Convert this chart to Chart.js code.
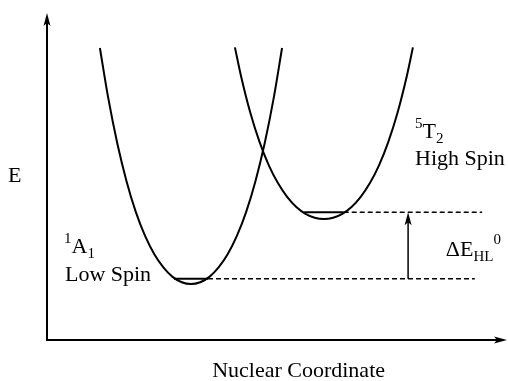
<!DOCTYPE html>
<html>
<head>
<meta charset="utf-8">
<script src="https://cdn.jsdelivr.net/npm/chart.js@4"></script>
<style>
  html, body { margin: 0; padding: 0; background: #fff; }
  canvas { display: block; }
</style>
</head>
<body>
<canvas id="grafico" width="508" height="381"></canvas>
<script>
// potential wells (x = nuclear coordinate, y = energy, arbitrary units 0-100)
const lowSpinX = [11.5, 13.3, 15.3, 17.3, 19.3, 21.3, 23.3, 25.3, 27.3, 29.3, 31.3, 33.3, 35.3, 37.3, 39.3, 41.3, 43.3, 45.3, 47.3, 49.3, 51.1];
const lowSpinY = [89.3, 74.1, 60.0, 48.5, 39.2, 31.9, 26.3, 22.2, 19.3, 17.65, 17.1, 17.65, 19.3, 22.2, 26.3, 31.9, 39.2, 48.5, 60.0, 74.1, 89.3];
const highSpinX = [40.85, 42.2, 44.2, 46.2, 48.2, 50.2, 52.2, 54.2, 56.2, 58.2, 60.2, 62.2, 64.2, 66.2, 68.2, 70.2, 72.2, 74.2, 76.2, 78.2, 79.55];
const highSpinY = [89.5, 80.6, 69.5, 60.6, 53.5, 48.0, 43.8, 40.7, 38.6, 37.4, 37.0, 37.4, 38.6, 40.7, 43.8, 48.0, 53.5, 60.6, 69.5, 80.6, 89.5];

// zero-point levels: low spin, high spin
const levelE = [18.7, 39.1];
const levelStart = [27.6, 55.9];
const levelCurveEnd = [35.0, 64.5];
const levelDashEnd = [93.0, 94.6];
const gapX = 78.5;

function pts(xs, ys) {
    return xs.map((x, i) => ({ x: x, y: ys[i] }));
}

// draws text with sub/superscripts: parts = [texto, tamanho, deslocamento]
function richText(ctx, parts, x, y) {
    let cx = x;
    parts.forEach(p => {
        ctx.font = p[1] + 'px "Liberation Serif", "Times New Roman", serif';
        ctx.fillText(p[0], cx, y + p[2]);
        cx += ctx.measureText(p[0]).width;
    });
}

function arrowHead(ctx, x, y, dir) {
    ctx.beginPath();
    if (dir === 'up') {
        ctx.moveTo(x, y);
        ctx.lineTo(x - 3.5, y + 13);
        ctx.lineTo(x, y + 10);
        ctx.lineTo(x + 3.5, y + 13);
    } else {
        ctx.moveTo(x, y);
        ctx.lineTo(x - 13, y - 3.5);
        ctx.lineTo(x - 10, y);
        ctx.lineTo(x - 13, y + 3.5);
    }
    ctx.closePath();
    ctx.fill();
}

const desenho = {
    id: 'desenho',
    afterDatasetsDraw(chart) {
        const ctx = chart.ctx;
        const sx = chart.scales.x, sy = chart.scales.y;
        const x0 = sx.getPixelForValue(0), y0 = sy.getPixelForValue(0);
        const xMax = sx.getPixelForValue(100), yMax = sy.getPixelForValue(100);
        ctx.save();
        ctx.strokeStyle = '#000';
        ctx.fillStyle = '#000';
        ctx.lineWidth = 2;
        ctx.beginPath();
        ctx.moveTo(x0, yMax + 4);
        ctx.lineTo(x0, y0);
        ctx.lineTo(xMax - 4, y0);
        ctx.stroke();
        arrowHead(ctx, x0, yMax, 'up');
        arrowHead(ctx, xMax, y0, 'right');
        arrowHead(ctx, sx.getPixelForValue(gapX), sy.getPixelForValue(levelE[1]), 'up');

        ctx.textBaseline = 'alphabetic';
        ctx.textAlign = 'left';
        const at = (x, y) => [sx.getPixelForValue(x), sy.getPixelForValue(y)];
        let p;
        p = at(-8.5, 48.3); richText(ctx, [['E', 22, 0]], p[0], p[1]);
        p = at(3.7, 26.6); richText(ctx, [['1', 15, -10], ['A', 22, 0], ['1', 15, 5]], p[0], p[1]);
        p = at(3.9, 18.0); richText(ctx, [['Low Spin', 22, 0]], p[0], p[1]);
        p = at(80.0, 61.8); richText(ctx, [['5', 15, -10], ['T', 22, 0], ['2', 15, 5]], p[0], p[1]);
        p = at(80.0, 53.5); richText(ctx, [['High Spin', 22, 0]], p[0], p[1]);
        p = at(86.7, 25.7); richText(ctx, [['\u0394E', 22, 0], ['HL', 15, 5], ['0', 15, -12]], p[0], p[1]);
        p = at(35.9, -11.2); richText(ctx, [['Nuclear Coordinate', 22, 0]], p[0], p[1]);
        ctx.restore();
    }
};

const curva = { showLine: true, pointRadius: 0, borderColor: '#000', borderWidth: 2, cubicInterpolationMode: 'monotone', fill: false };
const nivel = { showLine: true, pointRadius: 0, borderColor: '#000', borderWidth: 2, fill: false };
const tracejado = { showLine: true, pointRadius: 0, borderColor: '#000', borderWidth: 1.5, borderDash: [5, 3], fill: false };

const ctx = document.getElementById('grafico').getContext('2d');
new Chart(ctx, {
    type: 'scatter',
    data: {
        datasets: [
            Object.assign({ label: '1A1', data: pts(lowSpinX, lowSpinY) }, curva),
            Object.assign({ label: '5T2', data: pts(highSpinX, highSpinY) }, curva),
            Object.assign({ label: 'LS level', data: pts([levelStart[0], levelCurveEnd[0]], [levelE[0], levelE[0]]) }, nivel),
            Object.assign({ label: 'HS level', data: pts([levelStart[1], levelCurveEnd[1]], [levelE[1], levelE[1]]) }, nivel),
            Object.assign({ label: 'LS dash', data: pts([levelCurveEnd[0], levelDashEnd[0]], [levelE[0], levelE[0]]) }, tracejado),
            Object.assign({ label: 'HS dash', data: pts([levelCurveEnd[1], levelDashEnd[1]], [levelE[1], levelE[1]]) }, tracejado),
            { label: 'gap', data: pts([gapX, gapX], [levelE[0], levelE[1] - 2]), showLine: true, pointRadius: 0, borderColor: '#000', borderWidth: 1.5 }
        ]
    },
    options: {
        responsive: false,
        animation: false,
        devicePixelRatio: 1,
        layout: { padding: { left: 47, top: 13, right: 1, bottom: 41 } },
        scales: {
            x: { type: 'linear', min: 0, max: 100, display: false },
            y: { type: 'linear', min: 0, max: 100, display: false }
        },
        plugins: {
            legend: { display: false },
            tooltip: { enabled: false }
        }
    },
    plugins: [desenho]
});
</script>
</body>
</html>
